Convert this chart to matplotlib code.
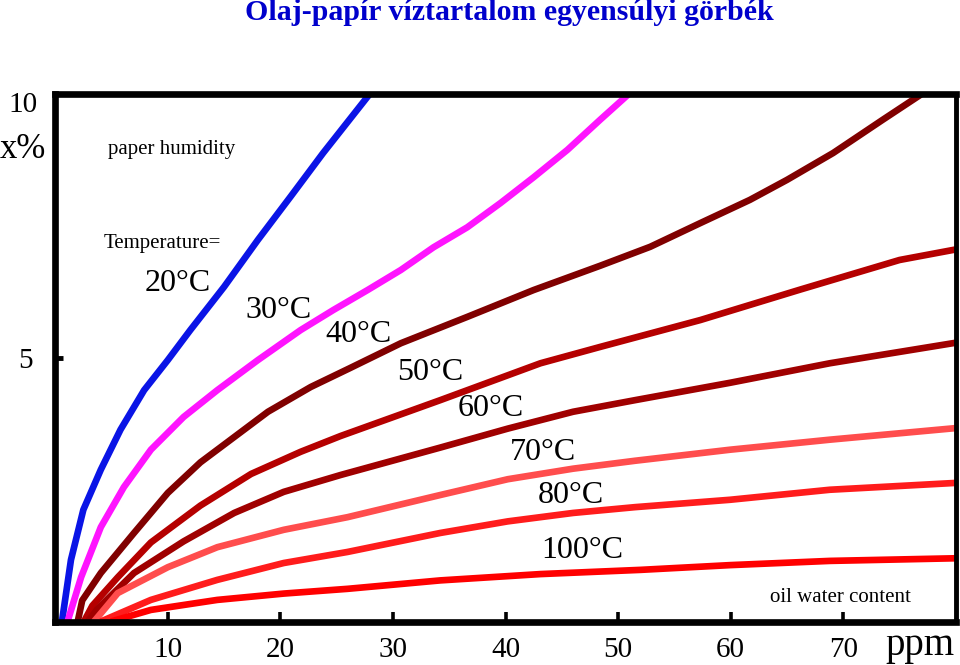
import matplotlib
matplotlib.use('Agg')
import matplotlib.pyplot as plt

# oil water content (ppm) / paper humidity (%)
x_20 = [0.6, 1.4, 2.5, 4.05, 5.8, 7.9, 10.0, 12.0, 15.0, 18.0, 20.9, 23.8, 27.9]
y_20 = [0.0, 1.17, 2.12, 2.88, 3.64, 4.39, 4.96, 5.53, 6.35, 7.24, 8.06, 8.89, 10.0]

x_30 = [1.1, 2.3, 4.05, 6.1, 8.5, 11.4, 14.4, 18.0, 21.8, 24.7, 27.75, 30.7, 33.6, 36.6, 39.55, 42.5, 45.5, 48.4, 50.9]
y_30 = [0.0, 0.84, 1.79, 2.55, 3.26, 3.88, 4.39, 4.96, 5.53, 5.91, 6.29, 6.67, 7.1, 7.48, 7.94, 8.43, 8.95, 9.52, 10.0]

x_40 = [2.0, 2.4, 4.05, 7.0, 10.0, 12.9, 15.9, 18.9, 22.7, 26.1, 30.7, 36.6, 42.5, 48.4, 52.85, 57.3, 61.7, 65.0, 69.1, 73.5, 76.9]
y_40 = [0.0, 0.4, 0.92, 1.68, 2.44, 3.02, 3.5, 3.98, 4.45, 4.8, 5.28, 5.78, 6.29, 6.75, 7.11, 7.56, 8.0, 8.38, 8.89, 9.52, 10.0]

x_50 = [2.55, 3.3, 5.56, 8.5, 12.9, 17.4, 21.8, 25.35, 34.2, 43.1, 48.4, 57.3, 66.2, 75.0, 80.0]
y_50 = [0.0, 0.3, 0.84, 1.5, 2.2, 2.8, 3.22, 3.52, 4.2, 4.9, 5.21, 5.72, 6.3, 6.86, 7.06]

x_60 = [2.9, 3.8, 7.0, 11.4, 15.9, 20.3, 25.35, 34.2, 40.2, 46.0, 51.5, 59.95, 68.8, 80.0]
y_60 = [0.0, 0.25, 0.92, 1.52, 2.06, 2.46, 2.78, 3.3, 3.66, 3.98, 4.2, 4.53, 4.9, 5.29]

x_70 = [3.45, 5.56, 10.0, 14.4, 20.3, 25.97, 34.2, 40.2, 46.0, 51.5, 59.95, 68.8, 80.0]
y_70 = [0.0, 0.54, 1.03, 1.41, 1.74, 1.98, 2.4, 2.7, 2.9, 3.05, 3.26, 3.45, 3.67]

x_80 = [4.05, 8.5, 14.4, 20.3, 25.97, 34.2, 40.2, 46.0, 51.5, 59.95, 68.8, 80.0]
y_80 = [0.0, 0.41, 0.79, 1.11, 1.32, 1.68, 1.9, 2.06, 2.17, 2.31, 2.5, 2.63]

x_100 = [4.95, 8.5, 14.4, 20.3, 25.97, 34.2, 43.1, 52.0, 59.95, 68.8, 80.0]
y_100 = [0.0, 0.22, 0.41, 0.53, 0.62, 0.78, 0.9, 0.98, 1.07, 1.15, 1.2]

temps = ['20°C', '30°C', '40°C', '50°C', '60°C', '70°C', '80°C', '100°C']
colors = ['#0a14e6', '#ff14ff', '#800000', '#b50000', '#a00000', '#ff4d4d', '#ff1c1c', '#ff0000']
xs = [x_20, x_30, x_40, x_50, x_60, x_70, x_80, x_100]
ys = [y_20, y_30, y_40, y_50, y_60, y_70, y_80, y_100]

x_ticks = [10, 20, 30, 40, 50, 60, 70]

# where each temperature label sits (data coords)
label_pos = [(10.9, 6.42), (19.8, 5.9), (26.9, 5.44), (33.3, 4.72),
             (38.7, 4.05), (43.3, 3.2), (45.8, 2.4), (46.8, 1.34)]

plt.rcParams['font.family'] = 'Liberation Serif'

fig = plt.figure(figsize=(9.6, 6.65), dpi=100)
ax = fig.add_axes([0.0575, 0.0654, 0.9382, 0.7925])

for x, y, c in zip(xs, ys, colors):
	ax.plot(x, y, color=c, lw=4.8, solid_capstyle='butt', solid_joinstyle='round')

for t, (lx, ly) in zip(temps, label_pos):
	ax.text(lx, ly, t, fontsize=23, ha='center', va='center')

ax.set_xlim(0, 80)
ax.set_ylim(0, 10)

for s in ax.spines.values():
	s.set_linewidth(4.8)
ax.spines['right'].set_linewidth(3.5)

ax.set_xticks(x_ticks)
ax.set_xticklabels([str(v) for v in x_ticks], fontsize=21)
ax.set_yticks([5])
ax.set_yticklabels(['5'], fontsize=21)
ax.tick_params(axis='x', direction='in', length=7, width=2.6, pad=11)
ax.tick_params(axis='y', direction='in', length=6, width=3.5, pad=16)

ax.text(-2.9, 9.8, '10', fontsize=21, ha='center', va='center', clip_on=False)
ax.text(-2.9, 8.95, 'x%', fontsize=25, ha='center', va='center', clip_on=False)
ax.text(4.7, 8.95, 'paper humidity', fontsize=15, ha='left', va='center')
ax.text(4.3, 7.18, 'Temperature=', fontsize=15, ha='left', va='center')
ax.text(63.5, 0.46, 'oil water content', fontsize=15, ha='left', va='center')
ax.text(76.8, -0.45, 'ppm', fontsize=28, ha='center', va='center', clip_on=False)

fig.text(0.531, 0.981, 'Olaj-papír víztartalom egyensúlyi görbék', fontsize=21.5,
         fontweight='bold', color='#0000cc', ha='center', va='center')

fig.savefig('out.png', dpi=100)
